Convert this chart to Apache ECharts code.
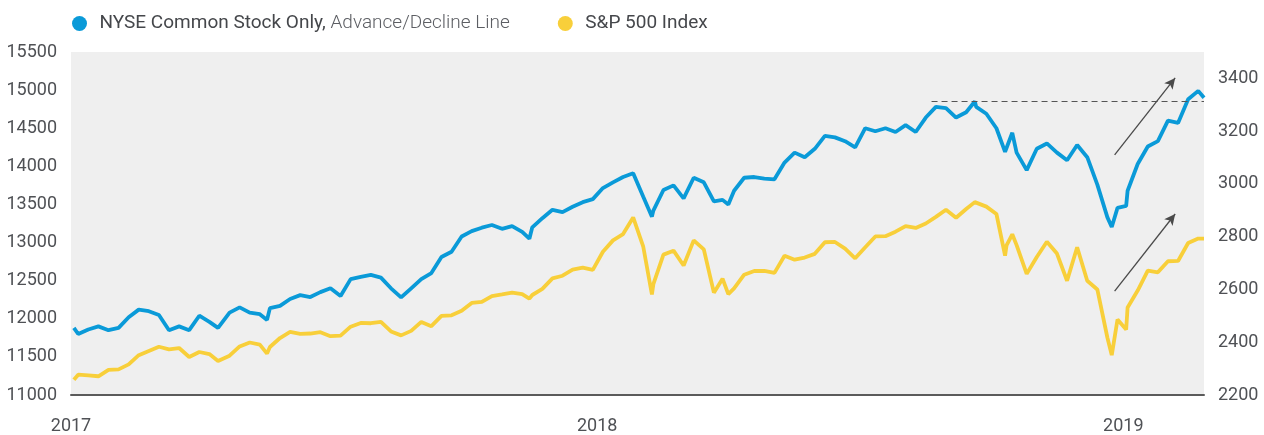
<!DOCTYPE html>
<html>
<head>
<meta charset="utf-8">
<title>NYSE Advance/Decline Line vs S&amp;P 500</title>
<style>
  body, html { margin: 0; padding: 0; background: #fff; }
</style>
</head>
<body>
<div id="chart" style="width:1264px;height:435px"></div>
<script src="https://cdn.jsdelivr.net/npm/echarts@6/dist/echarts.min.js"></script>
<script>
// weekly closes plus a few intra-week extremes
var dates = [
  '2017-01-03','2017-01-06','2017-01-13','2017-01-20','2017-01-27','2017-02-03','2017-02-10','2017-02-17','2017-02-24',
  '2017-03-03','2017-03-10','2017-03-17','2017-03-24','2017-03-31','2017-04-07','2017-04-13','2017-04-21','2017-04-28',
  '2017-05-05','2017-05-12','2017-05-17','2017-05-19','2017-05-26','2017-06-02','2017-06-09','2017-06-16','2017-06-23',
  '2017-06-30','2017-07-07','2017-07-14','2017-07-21','2017-07-28','2017-08-04','2017-08-11','2017-08-18','2017-08-25',
  '2017-09-01','2017-09-08','2017-09-15','2017-09-22','2017-09-29','2017-10-06','2017-10-13','2017-10-20','2017-10-27',
  '2017-11-03','2017-11-10','2017-11-15','2017-11-17','2017-11-24','2017-12-01','2017-12-08','2017-12-15','2017-12-22',
  '2017-12-29','2018-01-05','2018-01-12','2018-01-19','2018-01-26','2018-02-02','2018-02-08','2018-02-09','2018-02-16',
  '2018-02-23','2018-03-02','2018-03-09','2018-03-16','2018-03-23','2018-03-29','2018-04-02','2018-04-06','2018-04-13',
  '2018-04-20','2018-04-27','2018-05-04','2018-05-11','2018-05-18','2018-05-25','2018-06-01','2018-06-08','2018-06-15',
  '2018-06-22','2018-06-29','2018-07-06','2018-07-13','2018-07-20','2018-07-27','2018-08-03','2018-08-10','2018-08-17',
  '2018-08-24','2018-08-31','2018-09-07','2018-09-14','2018-09-20','2018-09-21','2018-09-28','2018-10-05','2018-10-11',
  '2018-10-12','2018-10-16','2018-10-19','2018-10-26','2018-11-02','2018-11-09','2018-11-16','2018-11-23','2018-11-30',
  '2018-12-07','2018-12-14','2018-12-21','2018-12-24','2018-12-28','2019-01-03','2019-01-04','2019-01-11','2019-01-18',
  '2019-01-25','2019-02-01','2019-02-08','2019-02-15','2019-02-22','2019-02-26'
];

var adLine = [
  11880,11800,11860,11900,11850,11880,12020,12120,12100,
  12050,11850,11900,11850,12040,11960,11880,12080,12150,
  12080,12060,11985,12140,12170,12260,12310,12285,12350,
  12400,12300,12520,12550,12575,12540,12400,12280,12400,
  12520,12600,12810,12880,13080,13150,13195,13230,13180,
  13215,13140,13050,13200,13320,13430,13400,13470,13530,
  13570,13715,13790,13860,13910,13600,13340,13420,13690,
  13750,13580,13850,13790,13540,13560,13500,13680,13850,
  13860,13840,13830,14050,14180,14120,14230,14400,14380,
  14330,14250,14500,14460,14500,14450,14540,14450,14640,
  14780,14765,14640,14710,14850,14780,14690,14500,14190,
  14240,14440,14180,13950,14230,14300,14180,14080,14280,
  14120,13760,13330,13205,13455,13480,13680,14030,14260,
  14330,14600,14570,14880,14990,14900
];

var spx = [
  2258,2277,2274,2271,2295,2297,2316,2351,2367,
  2383,2373,2378,2344,2363,2355,2329,2349,2384,
  2399,2391,2357,2382,2416,2439,2432,2433,2438,
  2423,2425,2459,2473,2472,2477,2441,2426,2443,
  2477,2461,2500,2502,2519,2549,2553,2575,2581,
  2588,2582,2565,2579,2602,2642,2652,2675,2683,
  2674,2743,2786,2810,2873,2762,2581,2620,2732,
  2747,2691,2786,2752,2588,2641,2582,2604,2656,
  2670,2670,2663,2728,2713,2721,2735,2779,2780,
  2755,2718,2760,2801,2802,2819,2840,2833,2850,
  2875,2902,2872,2905,2931,2930,2914,2886,2728,
  2767,2809,2768,2659,2723,2781,2736,2633,2760,
  2633,2600,2417,2351,2486,2448,2532,2596,2671,
  2665,2707,2708,2776,2793,2793
];

var yearTicks = ['2017-01-01', '2018-01-01', '2019-01-01'];
var xRange = ['2017-01-01', '2019-02-26'];
var leftRange = [11000, 15500, 500];
var rightRange = [2200, 3500, 200];

// annotations: prior A/D high carried forward, and the two rebound arrows
var peakFrom = '2018-08-21';
var blueArrow = [['2018-12-26', 14150], ['2019-02-06', 15160]];
var goldArrow = [['2018-12-26', 2594], ['2019-02-06', 2886]];

var BLUE = '#0a9ad8';
var GOLD = '#f8cf3a';
var TEXT = '#4f5155';
var FONT = "Roboto, 'Liberation Sans', sans-serif";

function t(s) { return +echarts.time.parse(s); }

function pairs(vals) {
  return dates.map(function (d, i) { return [t(d), vals[i]]; });
}

function arrowLine(a, style) {
  return [{ coord: [t(a[0][0]), a[0][1]], lineStyle: style }, { coord: [t(a[1][0]), a[1][1]] }];
}

var peak2018 = Math.max.apply(null, adLine.filter(function (v, i) {
  return dates[i] < '2019-01-01';
}));

var arrowStyle = { color: '#4a4a4a', width: 1.3, type: 'solid' };
var dashStyle = { color: '#555', width: 1, type: [6, 4] };
var axisText = { fontSize: 18, color: TEXT, fontFamily: FONT };

var chart = echarts.init(document.getElementById('chart'));
chart.setOption({
  backgroundColor: '#fff',
  animation: false,
  textStyle: { fontFamily: FONT },
  legend: {
    top: 9,
    left: 67,
    icon: 'circle',
    itemWidth: 30,
    itemHeight: 15,
    itemGap: 48,
    selectedMode: false,
    textStyle: {
      fontFamily: FONT,
      fontSize: 19,
      color: TEXT,
      rich: {
        a: { fontFamily: FONT, fontSize: 19, color: '#45474b' },
        b: { fontFamily: FONT, fontSize: 19, color: '#5c5e63', fontWeight: 300 }
      }
    },
    formatter: function (name) {
      var i = name.indexOf(', ');
      if (i < 0) return '{a|' + name + '}';
      return '{a|' + name.slice(0, i + 1) + '} {b|' + name.slice(i + 2) + '}';
    }
  },
  grid: {
    left: 71,
    right: 60,
    top: 52,
    bottom: 40,
    outerBoundsMode: 'none',
    containLabel: false,
    show: true,
    backgroundColor: '#efefef',
    borderWidth: 0
  },
  xAxis: {
    type: 'value',
    min: t(xRange[0]),
    max: t(xRange[1]),
    axisLine: { lineStyle: { color: '#5b5b5b', width: 2 } },
    axisTick: { show: false },
    splitLine: { show: false },
    axisLabel: Object.assign({
      customValues: yearTicks.map(t),
      formatter: function (v) { return String(new Date(v).getFullYear()); },
      margin: 22
    }, axisText)
  },
  yAxis: [{
    type: 'value',
    position: 'left',
    min: leftRange[0],
    max: leftRange[1],
    interval: leftRange[2],
    axisLine: { show: false },
    axisTick: { show: false },
    splitLine: { show: false },
    axisLabel: Object.assign({ margin: 14, formatter: String }, axisText)
  }, {
    type: 'value',
    position: 'right',
    min: rightRange[0],
    max: rightRange[1],
    interval: rightRange[2],
    axisLine: { show: false },
    axisTick: { show: false },
    splitLine: { show: false },
    axisLabel: Object.assign({ margin: 14, formatter: String, showMaxLabel: false }, axisText)
  }],
  series: [{
    name: 'NYSE Common Stock Only, Advance/Decline Line',
    type: 'line',
    yAxisIndex: 0,
    data: pairs(adLine),
    showSymbol: false,
    color: BLUE,
    lineStyle: { width: 3.8, color: BLUE },
    z: 3,
    markLine: {
      silent: true,
      symbol: ['none', 'arrow'],
      symbolSize: [8, 11],
      label: { show: false },
      data: [
        [{ coord: [t(peakFrom), peak2018], lineStyle: dashStyle, symbol: 'none' },
         { coord: [t(xRange[1]), peak2018], symbol: 'none' }],
        arrowLine(blueArrow, arrowStyle)
      ]
    }
  }, {
    name: 'S&P 500 Index',
    type: 'line',
    yAxisIndex: 1,
    data: pairs(spx),
    showSymbol: false,
    color: GOLD,
    lineStyle: { width: 3.8, color: GOLD },
    z: 2,
    markLine: {
      silent: true,
      symbol: ['none', 'arrow'],
      symbolSize: [8, 11],
      label: { show: false },
      data: [arrowLine(goldArrow, arrowStyle)]
    }
  }]
});
window.onresize = chart.resize;
</script>
</body>
</html>
